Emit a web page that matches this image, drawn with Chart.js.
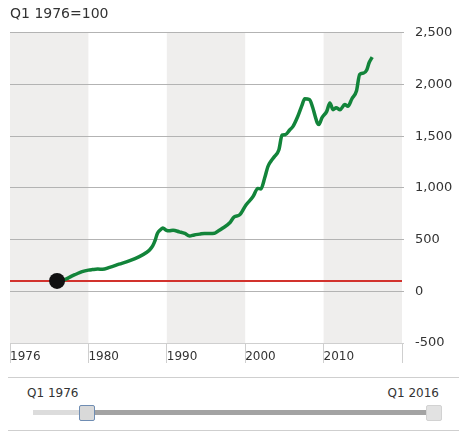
<!DOCTYPE html>
<html>
<head>
<meta charset="utf-8">
<script src="https://cdn.jsdelivr.net/npm/chart.js@4/dist/chart.umd.min.js"></script>
<style>
    body { margin: 0; background: #fff; font-family: "DejaVu Sans", Verdana, sans-serif; color: #333; }
    #wrap { position: relative; width: 459px; height: 431px; overflow: hidden; }
    #chartBox { position: absolute; left: 0; top: 0; width: 459px; height: 372px; }
    .slider { position: absolute; left: 8px; top: 377px; width: 451px; height: 52px; border-top: 1px solid #cfcfcf; border-bottom: 1px solid #cfcfcf; }
    .slider .lbl { position: absolute; top: 8px; font-size: 12px; color: #333; }
    .track { position: absolute; height: 5px; top: 32px; }
    .handle { position: absolute; top: 27px; width: 14px; height: 14px; border-radius: 2px; }
</style>
</head>
<body>
<div id="wrap">
    <div id="chartBox"><canvas id="indexChart"></canvas></div>
    <div class="slider">
        <span class="lbl" style="left: 19px;">Q1 1976</span>
        <span class="lbl" style="right: 20px;">Q1 2016</span>
        <div class="track" style="left: 25px; width: 50px; background: #dcdcdc;"></div>
        <div class="track" style="left: 84px; width: 338px; background: #a3a3a3;"></div>
        <div class="handle" style="left: 71px; background: #d9d9d9; border: 1px solid #6f8db3;"></div>
        <div class="handle" style="left: 418px; background: #e2e2e2; border: 1px solid #d2d2d2;"></div>
    </div>
</div>
<script>
// House price index, Q1 1976 = 100

const years = [
    1976.0, 1976.5, 1977.2, 1977.8, 1978.4, 1979.2, 1980.0, 1980.5, 1981.2, 1981.8,
    1982.7, 1983.9, 1985.2, 1986.5, 1987.4, 1987.8, 1988.2, 1988.5, 1988.8, 1989.2,
    1989.5, 1989.9, 1990.3, 1990.8, 1991.6, 1992.3, 1992.9, 1993.5, 1994.2, 1994.8,
    1995.4, 1996.1, 1996.6, 1997.1, 1998.0, 1998.6, 1999.3, 2000.1, 2001.0, 2001.6,
    2002.0, 2002.5, 2002.9, 2003.3, 2003.7, 2004.3, 2004.7, 2005.1, 2005.7, 2006.1,
    2006.7, 2007.2, 2007.6, 2008.2, 2008.6, 2008.9, 2009.2, 2009.4, 2009.8, 2010.4,
    2010.8, 2011.2, 2011.6, 2012.1, 2012.7, 2013.1, 2013.6, 2014.2, 2014.6, 2015.1,
    2015.5, 2015.8, 2016.2
];
const indexValues = [
    100, 102, 120, 145, 165, 190, 205, 210, 215, 213,
    232, 262, 294, 335, 375, 400, 440, 490, 560, 595,
    612, 592, 585, 590, 575, 560, 534, 545, 553, 560,
    560, 562, 585, 610, 660, 720, 740, 835, 916, 995,
    990, 1100, 1207, 1260, 1300, 1369, 1510, 1515, 1563, 1595,
    1690, 1790, 1861, 1854, 1780, 1700, 1628, 1612, 1680, 1740,
    1822, 1757, 1774, 1757, 1806, 1790, 1860, 1940, 2097, 2110,
    2140, 2210, 2265
];

const baseValue = 100;
const xMin = 1970;
const xMax = 2020;
const xTickLabels = ['1976', '1980', '1990', '2000', '2010', ''];
const yMin = -500;
const yMax = 2500;
const shadedDecades = [[1970, 1980], [1990, 2000], [2010, 2020]];

// Alternating decade bands behind the grid
const bandPlugin = {
    id: 'bands',
    beforeDraw(chart) {
        const { ctx, chartArea, scales } = chart;
        ctx.save();
        ctx.fillStyle = '#efeeed';
        shadedDecades.forEach(([a, b]) => {
            const x0 = scales.x.getPixelForValue(a);
            const x1 = scales.x.getPixelForValue(b);
            ctx.fillRect(x0, chartArea.top, x1 - x0, chartArea.bottom - chartArea.top);
        });
        ctx.restore();
    }
};

function initChart() {
    const ctx = document.getElementById('indexChart').getContext('2d');
    const series = years.map((y, i) => ({ x: y, y: indexValues[i] }));

    new Chart(ctx, {
        type: 'line',
        data: {
            datasets: [
                {
                    label: 'Start',
                    data: [series[0]],
                    pointRadius: 8,
                    pointBackgroundColor: '#111',
                    pointBorderWidth: 0,
                    showLine: false
                },
                {
                    label: 'Index',
                    data: series,
                    borderColor: '#12843a',
                    borderWidth: 3.5,
                    pointRadius: 0,
                    cubicInterpolationMode: 'monotone',
                    borderJoinStyle: 'round'
                },
                {
                    label: 'Base',
                    data: [{ x: xMin, y: baseValue }, { x: xMax, y: baseValue }],
                    borderColor: '#d2322d',
                    borderWidth: 2,
                    pointRadius: 0
                }
            ]
        },
        options: {
            responsive: true,
            maintainAspectRatio: false,
            animation: false,
            layout: { padding: { left: 10, right: 0, top: 0, bottom: 0 } },
            scales: {
                x: {
                    type: 'linear',
                    min: xMin,
                    max: xMax,
                    ticks: {
                        stepSize: 10,
                        align: 'start',
                        padding: -13,
                        color: '#333',
                        font: { family: 'DejaVu Sans', size: 12 },
                        callback: (v, i) => xTickLabels[i]
                    },
                    grid: { drawOnChartArea: false, drawTicks: true, tickLength: 20, color: '#cfcfcf' },
                    border: { display: true, color: '#cfcfcf' },
                    afterFit: (s) => { s.height = 29; }
                },
                y: {
                    position: 'right',
                    min: yMin,
                    max: yMax,
                    ticks: {
                        stepSize: 500,
                        padding: 11,
                        color: '#333',
                        font: { family: 'DejaVu Sans', size: 13 },
                        callback: (v) => v.toLocaleString('en-US')
                    },
                    grid: {
                        tickLength: 2,
                        color: (c) => c.tick && c.tick.value === yMin ? '#cfcfcf' : '#b3b3b3'
                    },
                    border: { display: false },
                    afterFit: (s) => { s.width = 57; }
                }
            },
            plugins: {
                legend: { display: false },
                tooltip: { enabled: false },
                title: {
                    display: true,
                    text: 'Q1 1976=100',
                    align: 'start',
                    color: '#333',
                    font: { family: 'DejaVu Sans', size: 14, weight: 'normal' },
                    padding: { top: 6, bottom: 10 }
                }
            }
        },
        plugins: [bandPlugin]
    });
}

initChart();
</script>
</body>
</html>
